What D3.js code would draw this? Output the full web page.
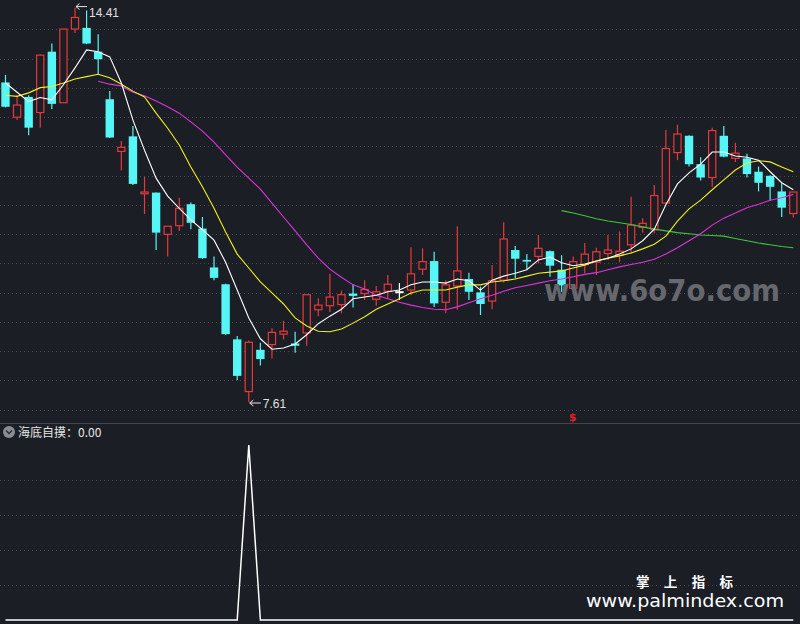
<!DOCTYPE html>
<html><head><meta charset="utf-8">
<script src="https://cdn.jsdelivr.net/npm/d3@7"></script>
<style>html,body{margin:0;padding:0;background:#1b1e25;overflow:hidden}</style>
</head><body><svg id="c" width="800" height="624"></svg>
<script>
// ---- DATA ----
const opens  = [13.12,12.52,12.87,12.60,13.65,12.77,14.04,14.06,13.65,12.83,11.93,12.19,11.20,11.22,10.50,10.65,11.02,10.60,9.93,9.64,8.69,7.79,8.51,8.60,8.78,8.62,8.80,9.20,9.27,9.29,9.48,9.48,9.38,9.52,9.51,9.54,9.90,10.04,9.33,9.61,9.73,9.50,9.35,9.71,10.23,10.06,10.12,10.21,9.89,9.57,9.98,10.02,10.17,10.14,10.32,10.62,10.58,11.04,11.91,12.20,11.71,11.48,12.20,11.81,11.81,11.58,11.51,11.24,10.86];
const highs  = [13.25,12.90,12.90,13.60,13.79,14.04,14.41,14.36,13.95,12.97,12.11,12.37,11.49,11.22,10.64,11.13,11.05,10.80,10.12,9.65,8.75,8.67,8.63,8.88,9.01,8.82,9.46,9.40,9.82,9.53,9.64,9.71,9.61,9.80,9.66,10.28,10.26,10.20,9.71,10.64,9.84,9.60,9.97,10.71,10.30,10.16,10.49,10.22,10.14,10.12,10.35,10.27,10.49,10.55,11.15,10.78,11.35,12.30,12.39,12.21,11.83,12.34,12.37,12.08,11.89,11.67,11.52,11.38,11.23];
const lows   = [12.69,12.47,12.21,12.34,12.66,12.77,13.97,13.78,13.25,12.16,11.60,11.35,10.85,10.23,10.12,10.56,10.59,10.08,9.71,8.77,7.99,7.61,8.24,8.36,8.69,8.46,8.58,9.09,9.16,9.14,9.24,9.37,9.27,9.40,9.37,9.45,9.80,9.25,9.14,9.20,9.37,9.11,9.21,9.67,9.74,9.90,10.00,9.77,9.51,9.54,9.83,9.80,10.06,10.02,10.17,10.53,10.52,11.03,11.78,11.67,11.43,11.32,11.83,11.75,11.48,11.24,11.08,10.80,10.79];
const closes = [12.70,12.73,12.34,13.59,12.75,14.04,14.24,13.79,13.52,12.17,12.00,11.37,11.23,10.53,10.64,10.95,10.70,10.09,9.75,8.78,8.06,8.64,8.35,8.81,8.83,8.58,9.46,9.28,9.42,9.46,9.44,9.55,9.51,9.64,9.51,9.82,10.03,9.31,9.63,9.87,9.51,9.30,9.70,10.42,10.08,10.03,10.26,9.96,9.62,10.03,10.16,10.20,10.23,10.21,10.66,10.69,11.17,11.98,12.23,11.71,11.48,12.29,11.84,11.90,11.54,11.39,11.32,10.96,11.23];
const maWhite  = [13.11,12.95,12.79,12.86,12.82,13.08,13.37,13.68,13.65,13.56,13.11,12.47,11.95,11.47,11.16,10.95,10.75,10.58,10.40,10.02,9.54,9.06,8.70,8.52,8.54,8.61,8.77,8.96,9.09,9.21,9.39,9.42,9.45,9.51,9.54,9.63,9.68,9.68,9.66,9.73,9.70,9.54,9.71,9.78,9.83,9.89,10.06,10.11,10.01,9.96,9.99,10.04,10.09,10.16,10.25,10.39,10.59,11.01,11.37,11.56,11.71,11.92,11.92,11.85,11.83,11.78,11.58,11.39,11.27];
const maYellow = [12.90,12.88,12.94,13.03,13.05,13.11,13.18,13.22,13.26,13.20,13.09,12.97,12.87,12.59,12.33,12.04,11.66,11.32,10.95,10.54,10.16,9.92,9.68,9.49,9.30,9.06,8.92,8.83,8.82,8.87,8.97,9.08,9.21,9.30,9.39,9.49,9.54,9.54,9.54,9.59,9.63,9.63,9.68,9.70,9.73,9.78,9.83,9.85,9.87,9.92,9.97,10.04,10.09,10.13,10.18,10.25,10.33,10.47,10.73,10.94,11.09,11.27,11.44,11.61,11.73,11.77,11.75,11.66,11.58];
const maMagenta = [null,null,null,null,null,null,null,null,13.14,13.09,13.06,12.95,12.89,12.80,12.70,12.59,12.44,12.28,12.09,11.87,11.66,11.47,11.28,11.04,10.80,10.56,10.32,10.09,9.90,9.76,9.63,9.56,9.45,9.39,9.33,9.28,9.24,9.21,9.20,9.25,9.32,9.39,9.45,9.52,9.58,9.62,9.66,9.70,9.73,9.77,9.81,9.84,9.89,9.94,9.98,10.02,10.07,10.16,10.27,10.39,10.51,10.66,10.78,10.87,10.96,11.02,11.09,11.13,11.19];
const maGreen = [null,null,null,null,null,null,null,null,null,null,null,null,null,null,null,null,null,null,null,null,null,null,null,null,null,null,null,null,null,null,null,null,null,null,null,null,null,null,null,null,null,null,null,null,null,null,null,null,10.91,10.87,10.82,10.77,10.73,10.70,10.67,10.63,10.59,10.56,10.53,10.51,10.49,10.48,10.47,10.43,10.39,10.35,10.32,10.29,10.27];
const haidiSignal = [0,0,0,0,0,0,0,0,0,0,0,0,0,0,0,0,0,0,0,0,0,1,0,0,0,0,0,0,0,0,0,0,0,0,0,0,0,0,0,0,0,0,0,0,0,0,0,0,0,0,0,0,0,0,0,0,0,0,0,0,0,0,0,0,0,0,0,0,0];
const dollarMarks = [49];
const indicatorName = "海底自摸";
const indicatorValue = "0.00";

// ---- DRAW ----
const W = 800, H = 624;
const BG = '#1b1e25', RED = '#e8383c', CYAN = '#56f6f6';
const svg = d3.select('#c');
svg.append('rect').attr('width', W).attr('height', H).attr('fill', BG);

const idx = d3.range(opens.length);
const x = d3.scaleBand().domain(idx).range([-0.3, 799.1]);
const cx = i => x(i) + x.bandwidth() / 2;
const y = d3.scaleLinear().domain([7.61, 14.41]).range([402, 7.6]);
const ySub = d3.scaleLinear().domain([0, 1]).range([620, 445]);

// grid
const gridMain = d3.scaleLinear().domain([0, 14]).range([0, 409.6]);
const grid = svg.append('g').attr('stroke', '#464a54').attr('stroke-dasharray', '1,3');
d3.range(1, 15).forEach(k => {
  const gy = Math.round(gridMain(k)) + 0.5;
  grid.append('line').attr('x1', 0).attr('x2', W).attr('y1', gy).attr('y2', gy);
});
[0.2, 0.4, 0.6, 0.8].forEach(v => {
  const gy = Math.round(ySub(v)) + 0.5;
  grid.append('line').attr('x1', 0).attr('x2', W).attr('y1', gy).attr('y2', gy);
});
// separator
svg.append('line').attr('x1', 0).attr('x2', W).attr('y1', 423.5).attr('y2', 423.5)
  .attr('stroke', '#40444e').attr('stroke-width', 1);

// candles
const cg = svg.append('g');
idx.forEach(i => {
  const o = opens[i], c = closes[i], h = highs[i], l = lows[i];
  const col = c > o ? RED : (c < o ? CYAN : '#ffffff');
  const xc = cx(i);
  cg.append('line').attr('x1', xc).attr('x2', xc).attr('y1', y(h)).attr('y2', y(l))
    .attr('stroke', col).attr('stroke-width', 1.2);
  const top = y(Math.max(o, c)), bot = y(Math.min(o, c));
  if (bot - top < 1.2) {
    cg.append('rect').attr('x', xc - 4.2).attr('y', top - 0.6).attr('width', 8.4).attr('height', 2)
      .attr('fill', col);
  } else if (c > o) {
    cg.append('rect').attr('x', xc - 3.6).attr('y', top).attr('width', 7.2).attr('height', bot - top)
      .attr('fill', BG).attr('stroke', col).attr('stroke-width', 1.2);
  } else {
    cg.append('rect').attr('x', xc - 4.2).attr('y', top).attr('width', 8.4).attr('height', bot - top)
      .attr('fill', col);
  }
});

// moving average lines
const line = d3.line().defined(d => d != null).x((d, i) => cx(i)).y(d => y(d));
[[maGreen, '#3cc83c'], [maMagenta, '#dc34dc'], [maYellow, '#f0f020'], [maWhite, '#ffffff']].forEach(([s, col]) => {
  svg.append('path').datum(s).attr('d', line).attr('fill', 'none').attr('stroke', col).attr('stroke-width', 1.1);
});

// high / low labels
const hiI = d3.maxIndex(highs), loI = d3.minIndex(lows);
function priceTag(i, val, ty) {
  const xa = cx(i) + 1, ya = y(val) + (i === loI ? 1 : -1);
  const g = svg.append('g').attr('stroke', '#e8e8e8').attr('stroke-width', 1).attr('fill', 'none');
  g.append('path').attr('d', `M${xa + 11},${ya} L${xa},${ya} M${xa + 3.5},${ya - 3} L${xa},${ya} L${xa + 3.5},${ya + 3}`);
  svg.append('text').attr('x', xa + 13).attr('y', ty).attr('fill', '#e0e0e0')
    .attr('font-family', 'Liberation Sans, Arial, sans-serif').attr('font-size', 12)
    .text(val.toFixed(2));
}
priceTag(hiI, highs[hiI], 16.5);
priceTag(loI, lows[loI], y(lows[loI]) + 5.5);

// dollar marks
dollarMarks.forEach(i => {
  svg.append('text').attr('x', cx(i) - 0.5).attr('y', 421).attr('text-anchor', 'middle')
    .attr('fill', '#e3201c').attr('font-family', 'DejaVu Sans, sans-serif').attr('font-weight', 'bold')
    .attr('font-size', 11).text('$');
});

// watermark 6o7o
svg.append('text').attr('x', 544).attr('y', 300.5).attr('fill', '#66686e')
  .attr('font-family', 'DejaVu Sans, sans-serif').attr('font-weight', 'bold').attr('font-size', 30)
  .attr('textLength', 236).attr('lengthAdjust', 'spacingAndGlyphs').text('www.6o7o.com');

// sub panel indicator line
const subLine = d3.line().x((d, i) => cx(i)).y(d => ySub(d));
svg.append('path').datum(haidiSignal).attr('d', subLine).attr('fill', 'none')
  .attr('stroke', '#ffffff').attr('stroke-width', 1.5);

// sub panel label
svg.append('circle').attr('cx', 9).attr('cy', 432).attr('r', 6).attr('fill', '#8a8d93');
svg.append('path').attr('d', 'M6,430.5 L9,433.5 L12,430.5').attr('fill', 'none')
  .attr('stroke', '#2b2e35').attr('stroke-width', 1.5);
svg.append('text').attr('x', 18).attr('y', 436.5).attr('fill', '#e6e6e6')
  .attr('font-family', 'Noto Sans CJK SC, sans-serif').attr('font-size', 12)
  .text(indicatorName + '：' + indicatorValue);

// palmindex watermark
svg.append('text').attr('x', 636).attr('y', 587).attr('fill', '#ffffff')
  .attr('font-family', 'Noto Sans CJK SC, sans-serif').attr('font-weight', 'bold').attr('font-size', 13.5)
  .attr('textLength', 97).attr('lengthAdjust', 'spacing').text('掌上指标');
svg.append('text').attr('x', 586).attr('y', 607).attr('fill', '#ffffff')
  .attr('font-family', 'DejaVu Sans, sans-serif').attr('font-size', 18.5)
  .attr('textLength', 198).attr('lengthAdjust', 'spacingAndGlyphs').text('www.palmindex.com');
</script></body></html>
